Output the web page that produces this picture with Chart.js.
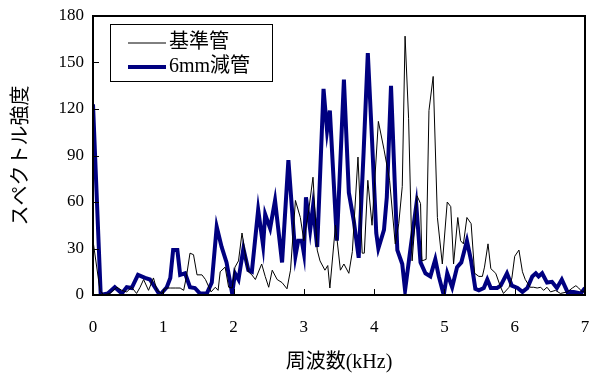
<!DOCTYPE html>
<html>
<head>
<meta charset="utf-8">
<script src="https://cdn.jsdelivr.net/npm/chart.js@4.4.0/dist/chart.umd.min.js"></script>
<style>
  html, body { margin: 0; padding: 0; background: #fff; }
  #wrap { width: 597px; height: 380px; }
</style>
</head>
<body>
<div id="wrap"><canvas id="spectrum"></canvas></div>
<script>
// 基準管 (kHz, 強度)
const baseFreq = [0.00,0.10,0.15,0.24,0.34,0.41,0.48,0.55,0.62,0.67,0.72,0.79,0.86,0.91,0.98,1.03,1.10,1.17,1.24,1.29,
  1.33,1.38,1.43,1.48,1.55,1.60,1.68,1.74,1.78,1.81,1.88,1.93,1.98,2.02,2.07,2.12,2.17,2.21,2.26,2.31,
  2.40,2.45,2.50,2.55,2.62,2.69,2.76,2.81,2.88,2.95,3.00,3.07,3.13,3.19,3.23,3.30,3.34,3.37,3.45,3.52,
  3.57,3.64,3.69,3.77,3.83,3.86,3.91,3.97,4.06,4.14,4.22,4.30,4.35,4.40,4.44,4.49,4.54,4.61,4.66,4.68,
  4.74,4.78,4.84,4.90,4.97,5.04,5.09,5.13,5.19,5.23,5.27,5.32,5.38,5.43,5.49,5.54,5.57,5.62,5.66,5.73,
  5.80,5.84,5.92,5.96,6.00,6.06,6.11,6.15,6.22,6.27,6.32,6.37,6.41,6.46,6.51,6.58,6.65,6.75,6.82,6.87,
  6.91,6.96,7.00];
const baseVals = [35,3,0,1,5,3,2,5,1,5,10,3,11,3,1,4.5,4.5,4.5,4.5,3,
  12,27,26,13,13,10,2,5,3,15,18,5,4.5,18,22,40,25,15,13,10,
  20,12,5,16,10,8,4,16,61,50,35,55,76,29,22,16,19,4.5,45,16,
  20,14,28,89,27,27,74,45,112,94,74,33,46,70,167,114,22,64,59,22,
  23,119,141,50,20,60,57,20,50,35,33,50,46,14,12,12,18,33,17,14,
  5,1,5,11,25,29,15,10,5,5,4.5,5,3,5,2,3,1,2,4.5,6,
  4.5,2,3];

// 6mm減管
const redFreq = [0.00,0.11,0.21,0.31,0.41,0.48,0.55,0.64,0.74,0.81,0.91,0.95,1.05,1.10,1.14,1.20,1.24,1.31,1.38,1.45,
  1.52,1.62,1.69,1.76,1.83,1.90,1.98,2.02,2.07,2.14,2.21,2.26,2.35,2.42,2.45,2.52,2.59,2.69,2.78,2.88,
  2.92,2.97,3.00,3.03,3.09,3.13,3.19,3.28,3.33,3.37,3.47,3.57,3.64,3.71,3.78,3.85,3.91,3.97,4.03,4.06,
  4.14,4.18,4.24,4.33,4.40,4.44,4.52,4.60,4.66,4.73,4.80,4.87,4.92,4.99,5.04,5.11,5.18,5.24,5.32,5.38,
  5.44,5.49,5.56,5.61,5.66,5.75,5.80,5.89,5.96,6.04,6.11,6.18,6.25,6.30,6.34,6.39,6.46,6.53,6.60,6.67,
  6.75,6.84,6.94,7.00];
const redVals = [123,0,1,5,1,5,4.5,13,11,10,3,0,5,11,29,29,13,14,5,4.5,
  1,1,8,44,31,21,1,14,10,30,16,15,55,32,52,43,61,21,87,25,
  35,35,27,63,42,57,31,133,106,119,35,139,66,48,24,92,156,100,40,30,
  42,63,135,29,20,3,31,58,21,14,12,23,12,0,14,5,18,21,35,22,
  4,3,4.5,10,4.5,4.5,6,14,6,4.5,2,4.5,12,14,12,14,8,8.5,4.5,10,
  2,2,1,4.5];

const xTicks = [0, 1, 2, 3, 4, 5, 6, 7];
const yTicks = [0, 30, 60, 90, 120, 150, 180];

const serif = "'Liberation Serif', 'Noto Sans CJK JP', serif";

function toPoints(xs, ys) {
  return xs.map((x, i) => ({ x: x, y: ys[i] }));
}

// 枠・内向き目盛り・凡例を描く
const framePlugin = {
  id: 'frame',
  afterDraw(chart) {
    const ctx = chart.ctx;
    const a = chart.chartArea;
    const xs = chart.scales.x;
    const ys = chart.scales.y;
    ctx.save();
    ctx.strokeStyle = '#000';
    ctx.lineWidth = 1;
    ctx.beginPath();
    xTicks.forEach(t => {
      const px = Math.round(xs.getPixelForValue(t)) + 0.5;
      ctx.moveTo(px, a.bottom);
      ctx.lineTo(px, a.bottom - 6);
    });
    yTicks.forEach(t => {
      const py = Math.round(ys.getPixelForValue(t)) + 0.5;
      ctx.moveTo(a.left, py);
      ctx.lineTo(a.left + 6, py);
    });
    ctx.stroke();
    ctx.lineWidth = 2;
    ctx.strokeRect(a.left, a.top, a.right - a.left, a.bottom - a.top);

    // 凡例
    const lx = a.left + 17, ly = a.top + 8, lw = 162, lh = 57;
    ctx.fillStyle = '#fff';
    ctx.fillRect(lx, ly, lw, lh);
    ctx.lineWidth = 1;
    ctx.strokeRect(lx + 0.5, ly + 0.5, lw, lh);
    ctx.font = "20px " + serif;
    ctx.textBaseline = 'middle';
    chart.data.datasets.forEach((ds, i) => {
      const y = ly + 19 + i * 24;
      ctx.strokeStyle = ds.borderColor;
      ctx.lineWidth = ds.borderWidth;
      ctx.beginPath();
      ctx.moveTo(lx + 18, y);
      ctx.lineTo(lx + 56, y);
      ctx.stroke();
      ctx.fillStyle = '#000';
      ctx.fillText(ds.label, lx + 59, y);
    });
    ctx.restore();
  }
};

new Chart(document.getElementById('spectrum'), {
  type: 'line',
  data: {
    datasets: [
      {
        label: '基準管',
        data: toPoints(baseFreq, baseVals),
        borderColor: '#000000',
        borderWidth: 1,
        pointRadius: 0,
        tension: 0
      },
      {
        label: '6mm減管',
        data: toPoints(redFreq, redVals),
        borderColor: '#000080',
        borderWidth: 4,
        pointRadius: 0,
        tension: 0
      }
    ]
  },
  options: {
    responsive: true,
    maintainAspectRatio: false,
    animation: false,
    layout: { padding: { top: 16, right: 12, left: 0, bottom: 0 } },
    plugins: {
      legend: { display: false },
      tooltip: { enabled: false }
    },
    scales: {
      x: {
        type: 'linear',
        min: 0,
        max: 7,
        afterFit(scale) {
          scale.height = 85;
          scale.paddingLeft = 0;
          scale.paddingRight = 0;
        },
        afterBuildTicks(scale) { scale.ticks = xTicks.map(v => ({ value: v })); },
        grid: { display: false, drawTicks: false },
        border: { display: false },
        ticks: { color: '#000', font: { family: serif, size: 17 }, padding: 22, maxRotation: 0 },
        title: {
          display: true,
          text: '周波数(kHz)',
          color: '#000',
          font: { family: serif, size: 20 },
          padding: { top: 0, bottom: 5 }
        }
      },
      y: {
        min: 0,
        max: 180,
        afterFit(scale) {
          scale.width = 93;
          scale.paddingTop = 0;
          scale.paddingBottom = 0;
        },
        afterBuildTicks(scale) { scale.ticks = yTicks.map(v => ({ value: v })); },
        grid: { display: false, drawTicks: false },
        border: { display: false },
        ticks: { color: '#000', font: { family: serif, size: 17 }, padding: 9 },
        title: {
          display: true,
          text: 'スペクトル強度',
          color: '#000',
          font: { family: serif, size: 20 },
          padding: { top: 10, bottom: 0 }
        }
      }
    }
  },
  plugins: [framePlugin]
});
</script>
</body>
</html>
